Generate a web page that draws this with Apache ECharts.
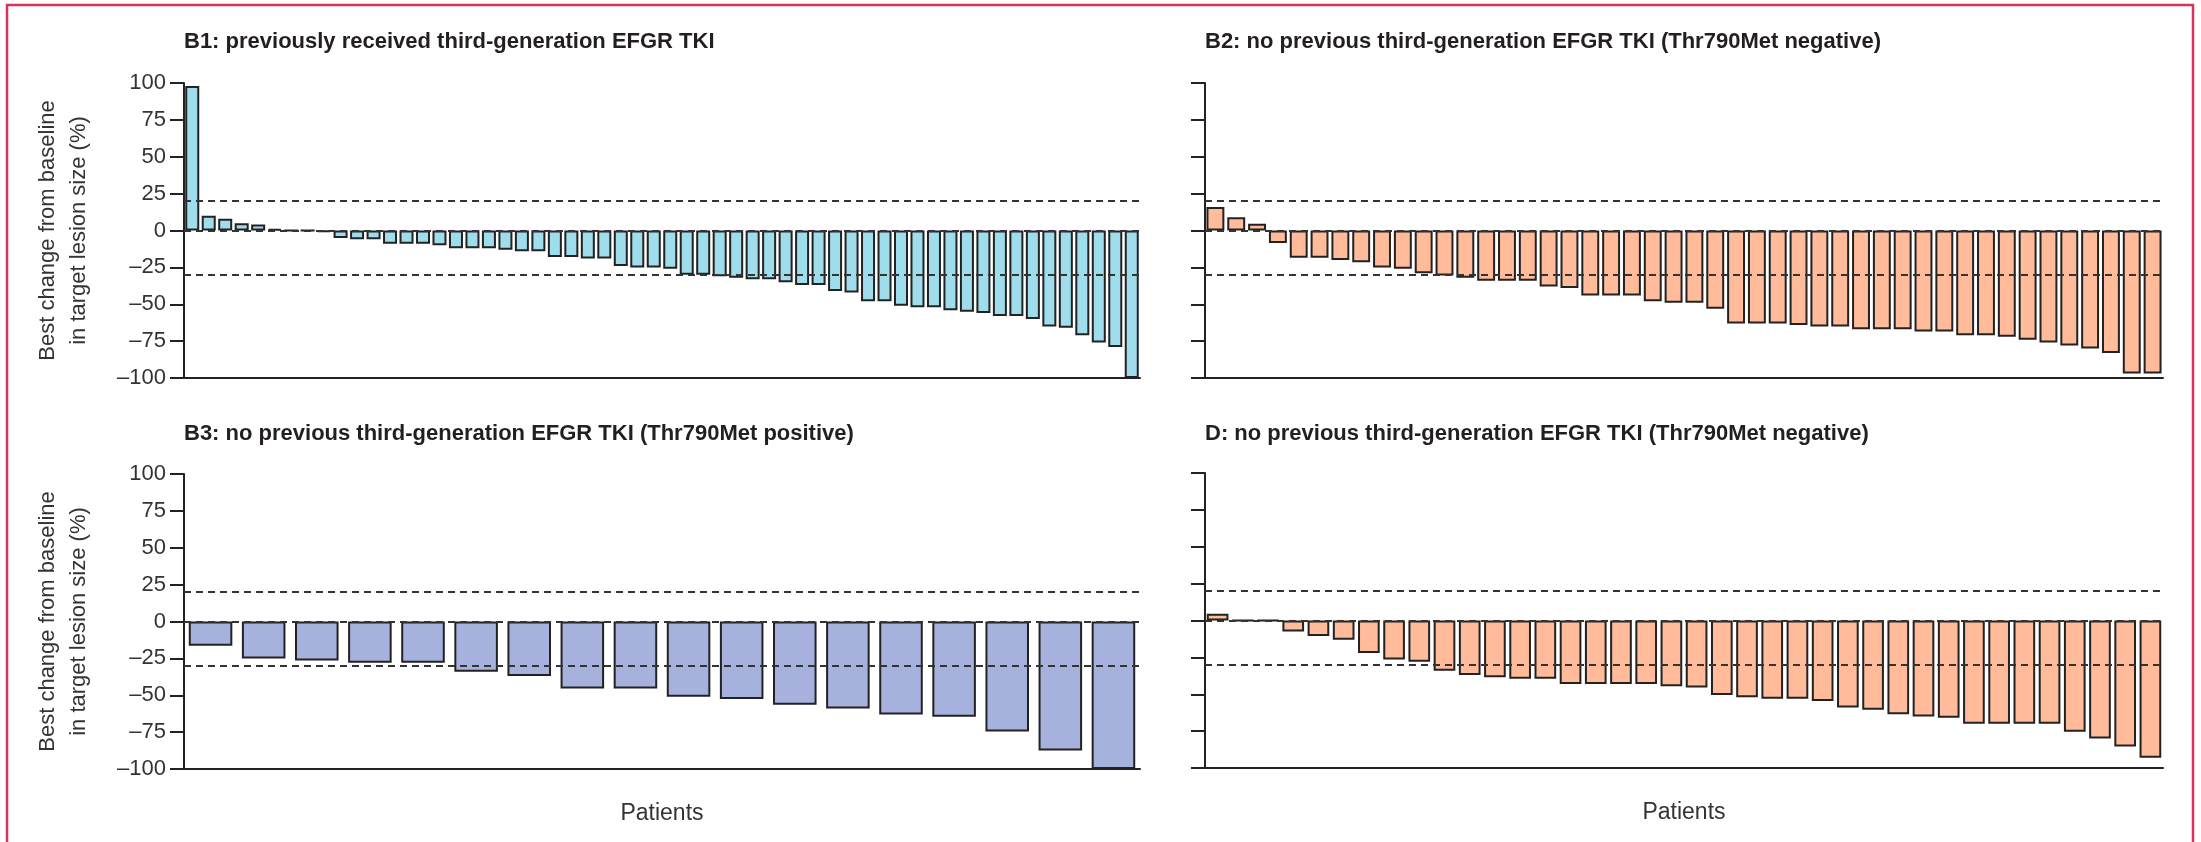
<!DOCTYPE html>
<html>
<head>
<meta charset="utf-8">
<title>Best change from baseline in target lesion size</title>
<script src="https://cdn.jsdelivr.net/npm/echarts@6/dist/echarts.min.js"></script>
<style>
  html, body { margin: 0; padding: 0; background: #fff; }
  #chart { width: 2201px; height: 842px; }
</style>
</head>
<body>
<div id="chart"></div>
<script>
// panel titles
var panelTitles = [
  "B1: previously received third-generation EFGR TKI",
  "B2: no previous third-generation EFGR TKI (Thr790Met negative)",
  "B3: no previous third-generation EFGR TKI (Thr790Met positive)",
  "D: no previous third-generation EFGR TKI (Thr790Met negative)"
];

// best change from baseline (%), one value per patient
var b1Values = [98, 10, 8, 5, 4, 1, 0, 0, -1, -5, -6, -6, -9, -9, -9, -10, -12, -12, -12, -13,
  -14, -14, -18, -18, -19, -19, -24, -25, -25, -26, -30, -30, -31, -32, -33, -33, -35, -37, -37, -41,
  -42, -48, -48, -51, -52, -52, -54, -55, -56, -58, -58, -60, -65, -66, -71, -76, -79, -100];
var b2Values = [16, 9, 4.5, -8.5, -18.5, -18.5, -20, -21.5, -25, -26, -29, -30.5, -32, -34, -34, -34,
  -38, -39, -44, -44, -44, -48, -49, -49, -53, -63, -63, -63, -64, -65, -65, -67, -67, -67, -68.5,
  -68.5, -71, -71, -72, -74, -76, -78, -80, -83, -97, -97];
var b3Values = [-16.5, -25, -26.5, -28, -28, -34, -37, -45.5, -45.5, -51, -52.5, -56.5, -59, -63,
  -64.5, -74.5, -87.5, -100];
var dValues = [4.5, 0, 0, -7.5, -10.5, -13, -22, -26.5, -28, -34, -37, -38.5, -39.5, -39.5, -43, -43,
  -43, -43, -44.5, -45.5, -50.5, -52, -53, -53, -54.5, -59, -60.5, -63.5, -65, -66, -70, -70, -70,
  -70, -75.5, -80, -85.5, -93];

// y axis ticks and dashed reference lines (%)
var yTicks = [-100, -75, -50, -25, 0, 25, 50, 75, 100];
var refLines = [20, 0, -30];

var panelValues = [b1Values, b2Values, b3Values, dValues];
var panelColors = ["#9fdcec", "#ffbb9a", "#a7b1de", "#ffbb9a"];
var barGaps = ["15%", "14%", "18%", "14%"];

// pixel layout of the four panels
var grids = [
  { left: 184, top: 83, width: 956, height: 295 },
  { left: 1205, top: 83, width: 958, height: 295 },
  { left: 184, top: 474, width: 956, height: 295 },
  { left: 1205, top: 473, width: 958, height: 295 }
];
var titleTops = [31, 31, 423, 423];

var dom = document.getElementById("chart");
var myChart = echarts.init(dom, null, { renderer: "canvas" });

var titles = [], xAxes = [], yAxes = [], series = [];

panelValues.forEach(function (values, i) {
  var cats = values.map(function (v, k) { return "P" + (k + 1); });
  var isLeft = i % 2 === 0;
  var isBottom = i >= 2;

  titles.push({
    text: panelTitles[i],
    left: grids[i].left,
    top: titleTops[i],
    padding: 0,
    textStyle: {
      fontFamily: "'Liberation Sans Narrow', 'Liberation Sans', Arial, sans-serif",
      fontSize: 22,
      fontWeight: "bold",
      color: "#231f20"
    }
  });

  xAxes.push({
    type: "category",
    gridIndex: i,
    data: cats,
    axisLine: { onZero: false, lineStyle: { color: "#222", width: 2 } },
    axisTick: { show: false },
    axisLabel: { show: false },
    name: isBottom ? "Patients" : "",
    nameLocation: "middle",
    nameGap: 33,
    nameTextStyle: { fontFamily: "'Liberation Sans', Arial, sans-serif", fontSize: 23, color: "#333" }
  });

  yAxes.push({
    type: "value",
    gridIndex: i,
    min: -100,
    max: 100,
    interval: 25,
    splitLine: { show: false },
    axisLine: { show: true, lineStyle: { color: "#222", width: 2 } },
    axisTick: { show: true, length: 14, lineStyle: { color: "#222", width: 2 } },
    axisLabel: {
      show: isLeft,
      margin: 18,
      fontFamily: "'Liberation Sans', Arial, sans-serif",
      fontSize: 22,
      color: "#333",
      formatter: function (v) { return yTicks.indexOf(v) >= 0 ? String(v).replace("-", "\u2013") : ""; }
    },
    name: isLeft ? "Best change from baseline\nin target lesion size (%)" : "",
    nameLocation: "middle",
    nameGap: 90,
    nameTextStyle: {
      fontFamily: "'Liberation Sans', Arial, sans-serif",
      fontSize: 22,
      lineHeight: 31,
      color: "#333"
    }
  });

  series.push({
    type: "bar",
    xAxisIndex: i,
    yAxisIndex: i,
    data: values,
    barCategoryGap: barGaps[i],
    itemStyle: { color: panelColors[i], borderColor: "#222", borderWidth: 2 },
    silent: true,
    markLine: {
      silent: true,
      symbol: "none",
      label: { show: false },
      lineStyle: { color: "#333", width: 2, type: [7, 5] },
      data: refLines.map(function (y) { return { yAxis: y }; })
    }
  });
});

var option = {
  backgroundColor: "#fff",
  animation: false,
  title: titles,
  grid: grids,
  xAxis: xAxes,
  yAxis: yAxes,
  series: series,
  // red frame round the figure
  graphic: [{
    type: "rect",
    shape: { x: 7, y: 5, width: 2186, height: 900 },
    style: { fill: "none", stroke: "#d7335c", lineWidth: 2.5 },
    silent: true
  }]
};

myChart.setOption(option);

window.addEventListener("resize", myChart.resize);
</script>
</body>
</html>
